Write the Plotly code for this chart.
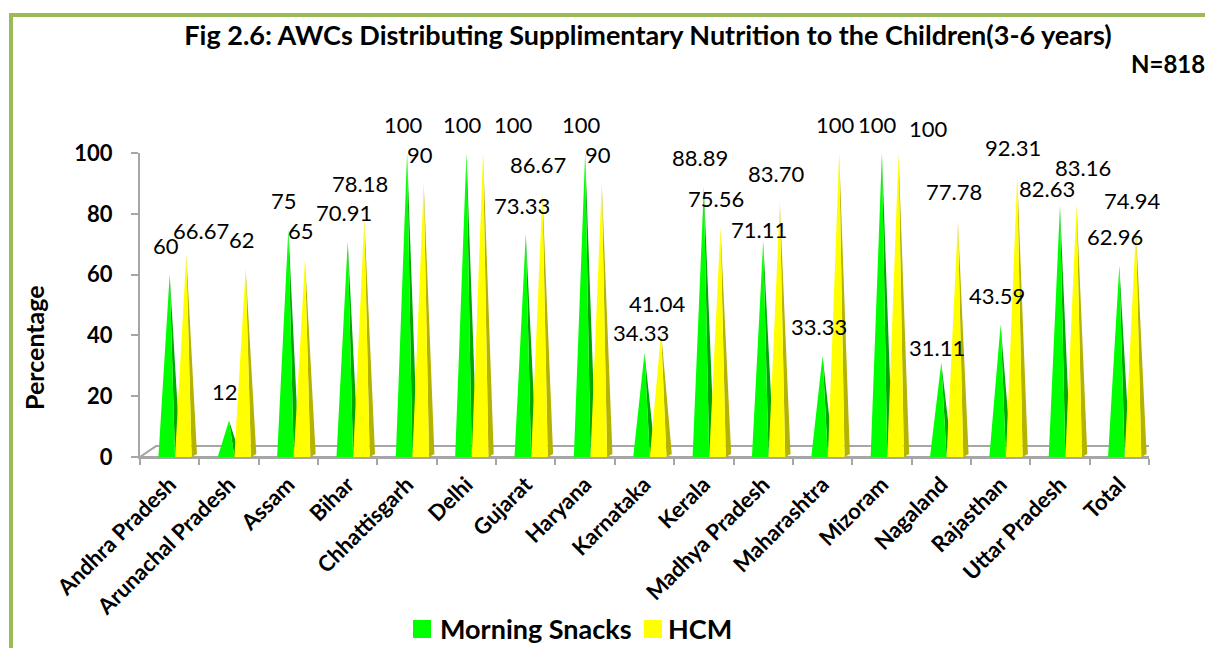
import plotly.graph_objects as go

# ---- data -------------------------------------------------------------
states = ["Andhra Pradesh", "Arunachal Pradesh", "Assam", "Bihar", "Chhattisgarh",
          "Delhi", "Gujarat", "Haryana", "Karnataka", "Kerala", "Madhya Pradesh",
          "Maharashtra", "Mizoram", "Nagaland", "Rajasthan", "Uttar Pradesh", "Total"]
morning_snacks = [60, 12, 75, 70.91, 100, 100, 73.33, 100, 34.33, 88.89, 71.11,
                  33.33, 100, 31.11, 43.59, 82.63, 62.96]
hcm = [66.67, 62, 65, 78.18, 90, 100, 86.67, 90, 41.04, 75.56, 83.70,
       100, 100, 77.78, 92.31, 83.16, 74.94]
label_text_ms = ["60", "12", "75", "70.91", "100", "100", "73.33", "100", "34.33", "88.89",
                 "71.11", "33.33", "100", "31.11", "43.59", "82.63", "62.96"]
label_text_hcm = ["66.67", "62", "65", "78.18", "90", "100", "86.67", "90", "41.04", "75.56",
                  "83.70", "100", "100", "77.78", "92.31", "83.16", "74.94"]
y_ticks = [0, 20, 40, 60, 80, 100]

# ---- layout geometry (pixels) ------------------------------------------
W, H = 1205, 648
L, R, T, B = 140, 1149, 153, 457
FONT = "Lato"


def px_x(px):
    return (px - L) / (R - L)


def px_y(py):
    return (B - py) / (B - T)


# pyramid geometry, in category units
GREEN_OFF, YELLOW_OFF = 0.0, 0.28
HALF_L, FRONT_R, SIDE_R = 0.19, 0.09, 0.18
SIDE_LIFT = 1.0

# label nudges (px) for labels that sit away from the default spot
nudge_ms = {8: (0, -9), 10: (0, -18), 13: (0, -14), 15: (-9, -12)}
nudge_hcm = {0: (19, -5), 3: (0, 7), 5: (34, 0), 12: (34, -4), 15: (10, 8)}


def pyramid_faces(values, off):
    fx, fy, sx, sy = [], [], [], []
    for i, v in enumerate(values):
        c = i + off
        fx += [c - HALF_L, c + FRONT_R, c, c - HALF_L, None]
        fy += [0, 0, v, 0, None]
        sx += [c + FRONT_R, c + SIDE_R, c, c + FRONT_R, None]
        sy += [0, SIDE_LIFT, v, 0, None]
    return fx, fy, sx, sy


fig = go.Figure()

# 3D floor outline
depth_x, depth_y = 0.27, 3.6
n = len(states)
fig.add_trace(go.Scatter(
    x=[-0.5, n - 0.5, n - 0.5 + depth_x, -0.5 + depth_x, -0.5],
    y=[0, 0, depth_y, depth_y, 0],
    mode="lines", line=dict(color="#A6A6A6", width=2),
    hoverinfo="skip", showlegend=False, cliponaxis=False))

series = [
    ("Morning Snacks", morning_snacks, GREEN_OFF, "#00FF00", "#00A800"),
    ("HCM", hcm, YELLOW_OFF, "#FFFF00", "#B4B400"),
]
for name, vals, off, front_col, side_col in series:
    fx, fy, sx, sy = pyramid_faces(vals, off)
    fig.add_trace(go.Scatter(x=sx, y=sy, fill="toself", fillcolor=side_col,
                             mode="lines", line=dict(width=0, color=side_col),
                             hoverinfo="skip", showlegend=False, cliponaxis=False))
    fig.add_trace(go.Scatter(x=fx, y=fy, fill="toself", fillcolor=front_col,
                             mode="lines", line=dict(width=0, color=front_col),
                             name=name, hoverinfo="skip", showlegend=False,
                             cliponaxis=False))

# value labels
annotations = []
for vals, texts, off, nudges in [(morning_snacks, label_text_ms, GREEN_OFF, nudge_ms),
                                 (hcm, label_text_hcm, YELLOW_OFF, nudge_hcm)]:
    for i, (v, t) in enumerate(zip(vals, texts)):
        dx, dy = nudges.get(i, (0, 0))
        annotations.append(dict(
            x=i + off, y=v, xref="x", yref="y", text=t, showarrow=False,
            xanchor="center", yanchor="middle", xshift=-4 + dx, yshift=29 + dy,
            font=dict(family=FONT, size=22, color="black")))

annotations.append(dict(x=px_x(1168), y=px_y(63), xref="paper", yref="paper",
                        text="N=818", showarrow=False, xanchor="center", yanchor="middle",
                        font=dict(family=FONT, size=24, color="black", weight="bold")))
annotations.append(dict(x=px_x(34), y=px_y(348), xref="paper", yref="paper",
                        text="Percentage", textangle=-90, showarrow=False,
                        xanchor="center", yanchor="middle",
                        font=dict(family=FONT, size=25, color="black", weight="bold")))

shapes = [dict(type="rect", xref="paper", yref="paper",
               x0=px_x(11), x1=px_x(1230), y0=px_y(680), y1=px_y(15),
               line=dict(color="#9BBB59", width=4), fillcolor="rgba(0,0,0,0)",
               layer="below")]

# legend: coloured squares with bold labels
legend_items = [("Morning Snacks", "#00FF00", 413, 438), ("HCM", "#FFFF00", 644, 666)]
for name, col, sq_x, txt_x in legend_items:
    shapes.append(dict(type="rect", xref="paper", yref="paper",
                       x0=px_x(sq_x), x1=px_x(sq_x + 18), y0=px_y(638), y1=px_y(620),
                       line=dict(width=0), fillcolor=col))
    annotations.append(dict(x=px_x(txt_x), y=px_y(628), xref="paper", yref="paper",
                            text=name, showarrow=False, xanchor="left", yanchor="middle",
                            font=dict(family=FONT, size=27, color="black", weight="bold")))

fig.update_layout(
    width=W, height=H, autosize=False,
    margin=dict(l=L, r=W - R, t=T, b=H - B, pad=0),
    paper_bgcolor="white", plot_bgcolor="white",
    showlegend=False,
    title=dict(text="Fig 2.6: AWCs Distributing Supplimentary Nutrition to the Children(3-6 years)",
               xref="container", yref="container", x=648 / W, y=1 - 36 / H,
               xanchor="center", yanchor="middle",
               font=dict(family=FONT, size=27, color="black", weight="bold")),
    xaxis=dict(range=[-0.5, n - 0.5], tickmode="array", tickvals=list(range(n)),
               ticktext=states, tickangle=-45, ticks="", showgrid=False, zeroline=False,
               showline=True, linecolor="#A6A6A6", linewidth=2, automargin=False,
               ticklabelstandoff=4,
               tickfont=dict(family=FONT, size=22, color="black", weight="bold"),
               minor=dict(tickmode="array", tickvals=[k - 0.5 for k in range(n + 1)],
                          ticks="outside", ticklen=6, tickwidth=2, tickcolor="#A6A6A6",
                          showgrid=False)),
    yaxis=dict(range=[0, 100], tickmode="array", tickvals=y_ticks, ticks="outside",
               ticklen=7, tickwidth=2, tickcolor="#A6A6A6", showgrid=False, zeroline=False,
               showline=True, linecolor="#A6A6A6", linewidth=2, ticklabelstandoff=14,
               automargin=False,
               tickfont=dict(family=FONT, size=22, color="black", weight="bold")),
    annotations=annotations,
    shapes=shapes,
)

fig.write_html("out.html")
